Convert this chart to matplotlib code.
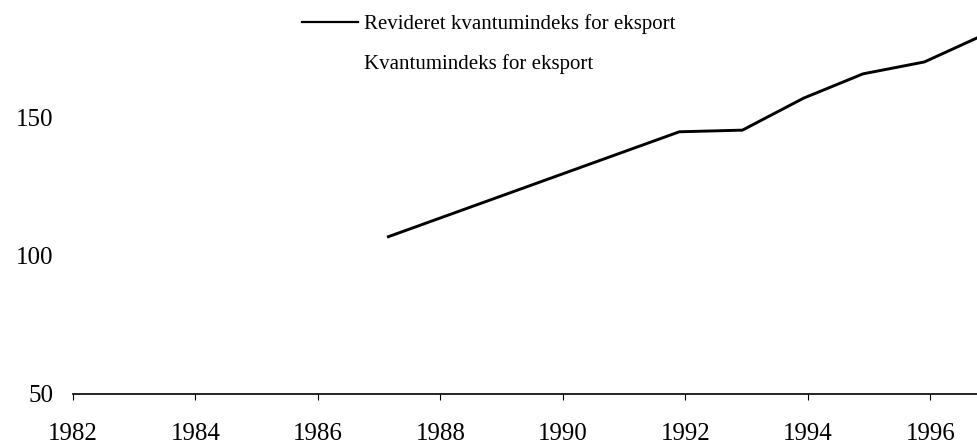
import matplotlib
matplotlib.use("Agg")
import matplotlib.pyplot as plt
from matplotlib.lines import Line2D

plt.rcParams["font.family"] = ["Liberation Serif", "DejaVu Serif"]

# revised export volume index
years = [1987.15, 1991.9, 1992.93, 1993.93, 1994.9, 1995.9, 1996.76]
revised = [107.0, 145.0, 145.6, 157.2, 166.0, 170.3, 179.0]

xticks = [1982, 1984, 1986, 1988, 1990, 1992, 1994, 1996]
yticks = [50, 100, 150]

label_revised = "Revideret kvantumindeks for eksport"
label_old = "Kvantumindeks for eksport"

fig = plt.figure(figsize=(9.77, 4.46), dpi=100)
ax = fig.add_axes([0.0747, 0.1166, 0.9253, 0.8834])

ax.plot(years, revised, color="black", linewidth=2.1, solid_joinstyle="miter")

ax.set_xlim(1982, 1996.76)
ax.set_ylim(50, 192.75)
ax.set_xticks(xticks)
ax.set_yticks(yticks)
ax.tick_params(axis="x", length=4, width=0.8, pad=17, labelsize=18)
ax.tick_params(axis="y", length=0, pad=14, labelsize=18)

for side in ["top", "right", "left"]:
    ax.spines[side].set_visible(False)
ax.spines["bottom"].set_linewidth(1.2)

handles = [
    Line2D([], [], color="black", linewidth=1.6),
    Line2D([], [], color="white", linewidth=1.6),
]
ax.legend(handles, [label_revised, label_old], loc="upper left",
          bbox_to_anchor=(302 / 977, 1 - 14 / 446), bbox_transform=fig.transFigure,
          frameon=False, fontsize=15, handlelength=2.7, handletextpad=0.3,
          labelspacing=0.95, borderpad=0, borderaxespad=0)

fig.savefig("out.png", dpi=100)
